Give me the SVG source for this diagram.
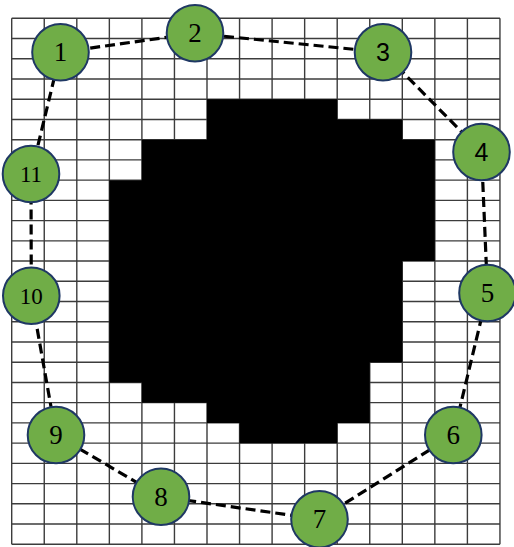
<svg xmlns="http://www.w3.org/2000/svg" width="514" height="547" viewBox="0 0 514 547">
<style>
.grid{stroke:#3c3c3c;stroke-width:1.4;fill:none}
.blob{fill:#000}
.edge{stroke:#000;stroke-width:3.2;stroke-dasharray:10 5;fill:none}
.node circle{fill:#70ad47;stroke:#1f3864;stroke-width:2}
.node text{font-family:"Liberation Serif","Times New Roman",serif;font-size:27px;fill:#000;text-anchor:middle}
.node text.s{font-size:23px}
.node text.ss{font-family:"Liberation Sans",Arial,sans-serif;font-size:25px}
</style>
<rect x="0" y="0" width="514" height="547" fill="#fff"/>
<path class="grid" d="M11.7,18.3V544.3M44.25,18.3V544.3M76.8,18.3V544.3M109.35,18.3V544.3M141.9,18.3V544.3M174.45,18.3V544.3M207,18.3V544.3M239.55,18.3V544.3M272.1,18.3V544.3M304.65,18.3V544.3M337.2,18.3V544.3M369.75,18.3V544.3M402.3,18.3V544.3M434.85,18.3V544.3M467.4,18.3V544.3M499.95,18.3V544.3
M11.7,18.3H499.95M11.7,38.53H499.95M11.7,58.76H499.95M11.7,78.99H499.95M11.7,99.22H499.95M11.7,119.45H499.95M11.7,139.68H499.95M11.7,159.91H499.95M11.7,180.14H499.95M11.7,200.37H499.95M11.7,220.6H499.95M11.7,240.83H499.95M11.7,261.06H499.95M11.7,281.29H499.95M11.7,301.52H499.95M11.7,321.75H499.95M11.7,341.98H499.95M11.7,362.21H499.95M11.7,382.44H499.95M11.7,402.67H499.95M11.7,422.9H499.95M11.7,443.13H499.95M11.7,463.36H499.95M11.7,483.59H499.95M11.7,503.82H499.95M11.7,524.05H499.95M11.7,544.3H499.95"/>
<polygon class="blob" points="207,99.22 337.2,99.22 337.2,119.45 402.3,119.45 402.3,139.68 434.85,139.68 434.85,261.06 402.3,261.06 402.3,362.21 369.75,362.21 369.75,422.9 337.2,422.9 337.2,443.13 239.55,443.13 239.55,422.9 207,422.9 207,402.67 141.9,402.67 141.9,382.44 109.35,382.44 109.35,180.14 141.9,180.14 141.9,139.68 207,139.68"/>
<g id="connectors">
<path class="edge" d="M60.5,52.3L195,33.3L383,52.2L481.5,152L487.5,293L453.3,435L319.5,519.3L161,496.7L56,435L31.3,295.7L31,174Z"/>
</g>
<g id="n1" class="node"><circle cx="60.5" cy="52.3" r="28.3"/><text x="60.5" y="61.3">1</text></g>
<g id="n2" class="node"><circle cx="195" cy="33.3" r="28.3"/><text x="195" y="42.3">2</text></g>
<g id="n3" class="node"><circle cx="383" cy="52.2" r="28.3"/><text class="ss" x="383" y="61.2">3</text></g>
<g id="n4" class="node"><circle cx="481.5" cy="152" r="28.3"/><text class="ss" x="481.5" y="161">4</text></g>
<g id="n5" class="node"><circle cx="487.5" cy="293" r="28.3"/><text x="487.5" y="302">5</text></g>
<g id="n6" class="node"><circle cx="453.3" cy="435" r="28.3"/><text x="453.3" y="444">6</text></g>
<g id="n7" class="node"><circle cx="319.5" cy="519.3" r="28.3"/><text x="319.5" y="528.3">7</text></g>
<g id="n8" class="node"><circle cx="161" cy="496.7" r="28.3"/><text x="161" y="505.7">8</text></g>
<g id="n9" class="node"><circle cx="56" cy="435" r="28.3"/><text x="56" y="444">9</text></g>
<g id="n10" class="node"><circle cx="31.3" cy="295.7" r="28.3"/><text class="s" x="31.3" y="303.5">10</text></g>
<g id="n11" class="node"><circle cx="31" cy="174" r="28.3"/><text class="s" x="31" y="181.8">11</text></g>
</svg>
